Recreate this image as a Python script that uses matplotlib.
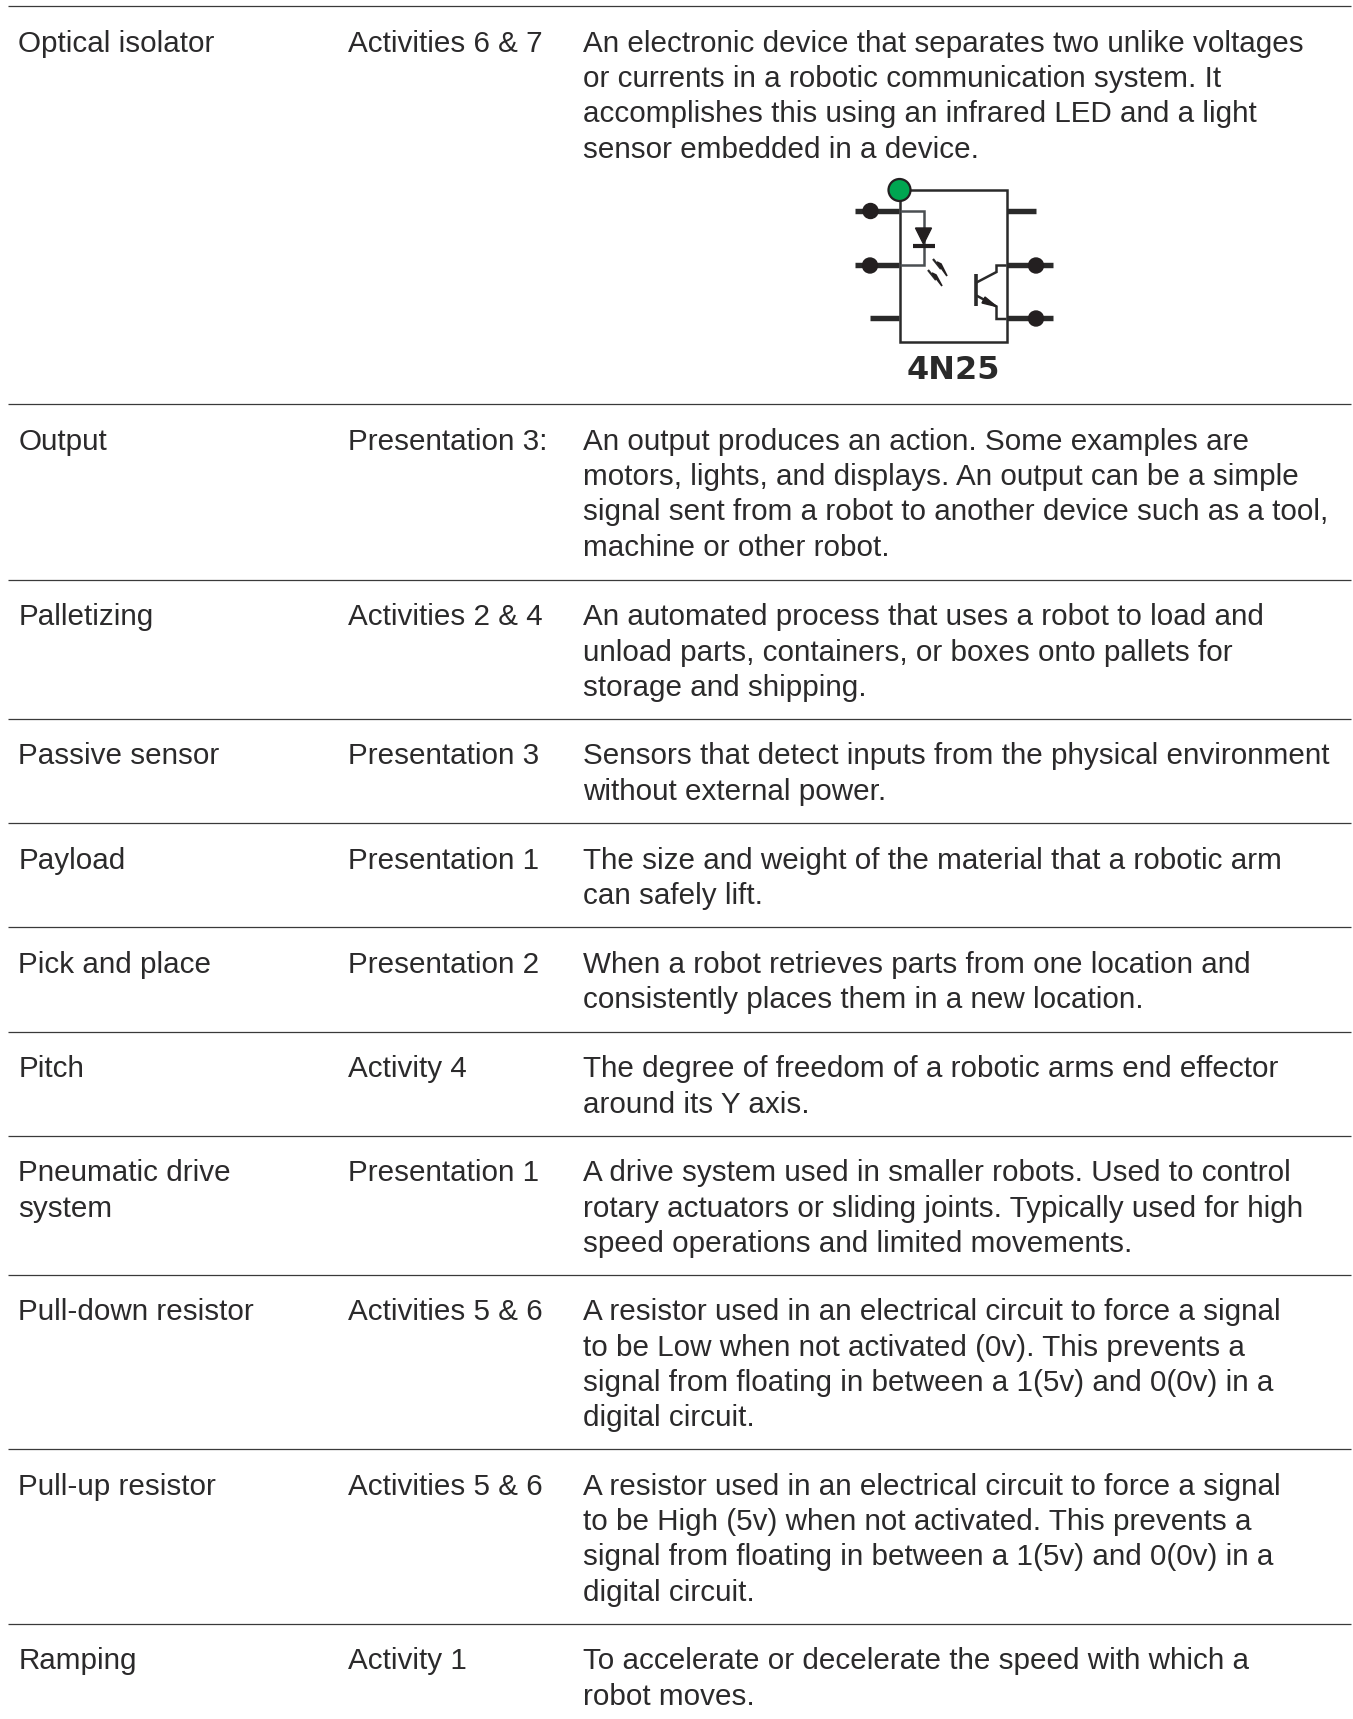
# coding: utf-8

import matplotlib
matplotlib.use('Agg')
import matplotlib.pyplot as plt
from matplotlib.patches import Circle, Polygon

W, H = 1353, 1719

terms = ['Optical isolator', 'Output', 'Palletizing', 'Passive sensor', 'Payload',
         'Pick and place', 'Pitch', 'Pneumatic drive\nsystem', 'Pull-down resistor',
         'Pull-up resistor', 'Ramping']

sources = ['Activities 6 & 7', 'Presentation 3:', 'Activities 2 & 4', 'Presentation 3',
           'Presentation 1', 'Presentation 2', 'Activity 4', 'Presentation 1',
           'Activities 5 & 6', 'Activities 5 & 6', 'Activity 1']

definitions = [
    ['An electronic device that separates two unlike voltages',
     'or currents in a robotic communication system. It',
     'accomplishes this using an infrared LED and a light',
     'sensor embedded in a device.'],
    ['An output produces an action. Some examples are',
     'motors, lights, and displays. An output can be a simple',
     'signal sent from a robot to another device such as a tool,',
     'machine or other robot.'],
    ['An automated process that uses a robot to load and',
     'unload parts, containers, or boxes onto pallets for',
     'storage and shipping.'],
    ['Sensors that detect inputs from the physical environment',
     'without external power.'],
    ['The size and weight of the material that a robotic arm',
     'can safely lift.'],
    ['When a robot retrieves parts from one location and',
     'consistently places them in a new location.'],
    ['The degree of freedom of a robotic arms end effector',
     'around its Y axis.'],
    ['A drive system used in smaller robots. Used to control',
     'rotary actuators or sliding joints. Typically used for high',
     'speed operations and limited movements.'],
    ['A resistor used in an electrical circuit to force a signal',
     'to be Low when not activated (0v). This prevents a',
     'signal from floating in between a 1(5v) and 0(0v) in a',
     'digital circuit.'],
    ['A resistor used in an electrical circuit to force a signal',
     'to be High (5v) when not activated. This prevents a',
     'signal from floating in between a 1(5v) and 0(0v) in a',
     'digital circuit.'],
    ['To accelerate or decelerate the speed with which a',
     'robot moves.'],
]

# y of the rule above each row, in pixels
rule_y = [6.5, 404.5, 580, 719, 823.5, 927.5, 1032, 1136, 1275, 1449.5, 1624]

INK = '#2b2a2b'
FS = 21.3
LINE = 35.3


def draw_table(ax):
    for y in rule_y:
        ax.plot([8, 1351], [y, y], color='#3a3a3a', lw=0.9, solid_capstyle='butt')
    for term, source, lines, y in zip(terms, sources, definitions, rule_y):
        base = y + 45.3
        for i, part in enumerate(term.split('\n')):
            ax.text(18.5, base + i * LINE, part, fontsize=FS, color=INK, va='baseline')
        ax.text(348.5, base, source, fontsize=FS, color=INK, va='baseline')
        for i, part in enumerate(lines):
            ax.text(583, base + i * LINE, part, fontsize=FS, color=INK, va='baseline')


def seg(ax, xs, ys, lw, color='#2a2a2a'):
    ax.plot(xs, ys, color=color, lw=lw, solid_capstyle='butt', solid_joinstyle='miter')


def draw_chip(ax):
    # outline
    seg(ax, [899.5, 1006.5, 1006.5, 899.5, 899.5], [190, 190, 342.5, 342.5, 190], 1.8)
    # pins
    seg(ax, [855, 899], [211, 211], 3.9)
    seg(ax, [855, 899], [265.5, 265.5], 3.9)
    seg(ax, [870, 899], [318.5, 318.5], 3.9)
    seg(ax, [1007, 1036], [211, 211], 3.9)
    seg(ax, [1007, 1053], [265.5, 265.5], 3.9)
    seg(ax, [1007, 1053], [318.5, 318.5], 3.9)
    for x, y in [(870.5, 211), (870, 265.5), (1036, 265.5), (1036, 318.5)]:
        ax.add_patch(Circle((x, y), 7.5, color='#231f20', zorder=3))
    # diode
    seg(ax, [899.5, 924, 924, 899.5], [211, 211, 265.5, 265.5], 1.8, '#4a4f52')
    ax.add_patch(Polygon([(915.5, 228), (931.5, 228), (923.5, 244)], color='#231f20', zorder=3))
    seg(ax, [913, 934.5], [246, 246], 3.0, '#231f20')
    # light arrows
    seg(ax, [933, 941], [259, 269], 1.6)
    seg(ax, [928, 936], [270, 280], 1.6)
    ax.add_patch(Polygon([(937, 262), (947, 276), (941, 264)], color='#231f20', zorder=3, lw=1.2))
    ax.add_patch(Polygon([(932, 273), (942, 286), (936, 275)], color='#231f20', zorder=3, lw=1.2))
    # transistor
    seg(ax, [975.5, 975.5], [274, 306.5], 2.6)
    seg(ax, [975.5, 996.5, 996.5, 1006.5], [283, 272, 265.5, 265.5], 1.8)
    seg(ax, [975.5, 996.5, 996.5, 1006.5], [295, 306.5, 319, 319], 1.8)
    ax.add_patch(Polygon([(985, 297), (996.5, 306.5), (982, 303)], color='#231f20', zorder=3))
    # pin one marker
    ax.add_patch(Circle((899.5, 190), 11, facecolor='#00a651', edgecolor='#231f20', lw=1.6, zorder=4))
    ax.text(953.5, 379, '4N25', fontsize=23, fontweight='bold', color='#2a2a2a',
            ha='center', va='baseline', family='DejaVu Sans')


def main():
    plt.rcParams['font.family'] = ['Liberation Sans', 'DejaVu Sans']
    fig = plt.figure(figsize=(W / 100, H / 100), dpi=100)
    ax = fig.add_axes([0, 0, 1, 1])
    ax.set_xlim(0, W)
    ax.set_ylim(H, 0)
    ax.axis('off')
    draw_table(ax)
    draw_chip(ax)
    fig.savefig('out.png', dpi=100)


if __name__ == "__main__":
    main()
